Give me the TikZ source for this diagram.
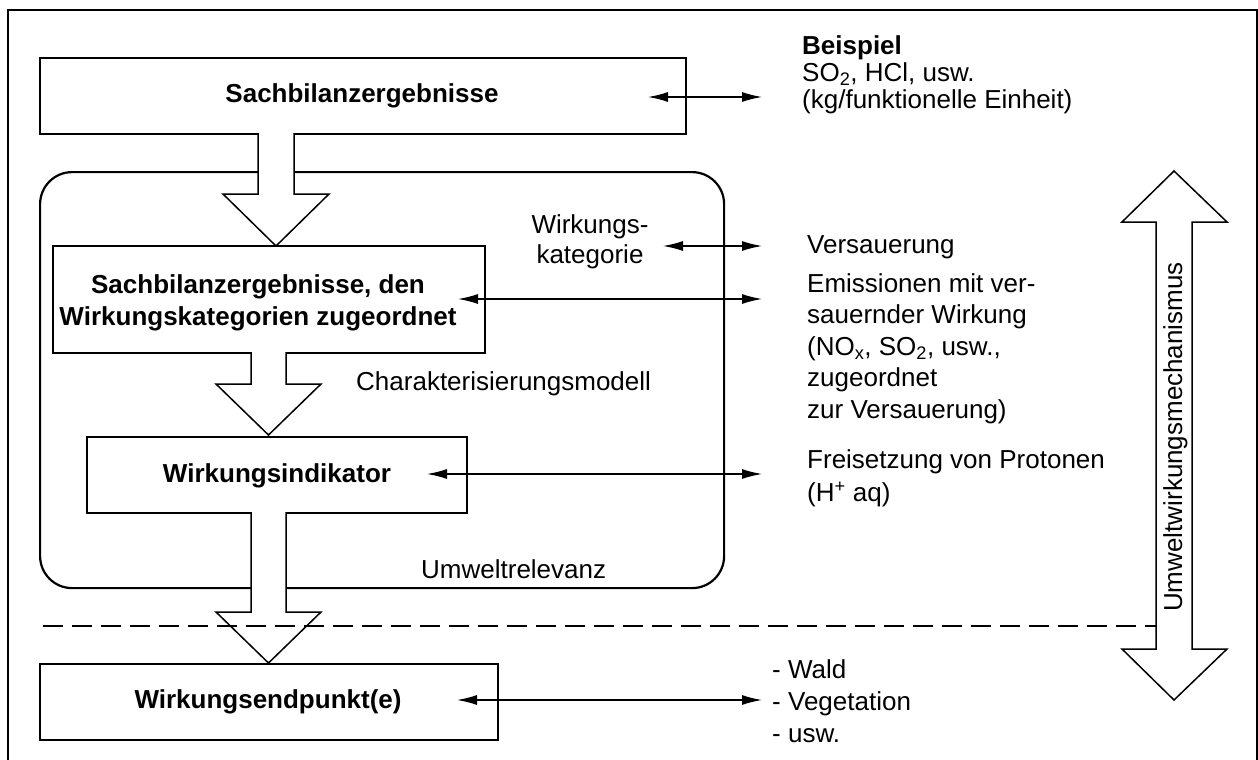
\documentclass[tikz,border=0pt]{standalone}
\usepackage{fontspec}
\setmainfont{Liberation Sans}
\usetikzlibrary{arrows.meta}
\begin{document}
\begin{tikzpicture}[x=1pt,y=-1pt,
  box/.style={draw, line width=2pt, inner sep=0pt, anchor=north west},
  lbl/.style={inner sep=0pt, font=\fontsize{26}{31.5}\selectfont},
  bold/.style={inner sep=0pt, font=\fontsize{26}{32}\selectfont\bfseries},
  dblarrow/.style={line width=1.4pt, {Latex[length=20pt,width=10pt]}-{Latex[length=20pt,width=10pt]}},
  blockarrow/.style={draw, line width=1.5pt, fill=white, line join=miter},
]
\useasboundingbox (0,0) rectangle (1258,760);

% outer frame (open at the bottom)
\draw[line width=2pt] (8,760) -- (8,10) -- (1257,10) -- (1257,760);

% rounded frame around the characterisation steps
\node[draw, line width=2.2pt, rounded corners=32pt, inner sep=0pt, anchor=north west,
      minimum width=684pt, minimum height=416pt] (umw) at (39,171) {};

% boxes
\node[box, minimum width=646pt, minimum height=76pt] (sb) at (39,57) {};
\node[box, minimum width=432pt, minimum height=107pt] (zu) at (52,245) {};
\node[box, minimum width=380pt, minimum height=76pt] (wi) at (86,436) {};
\node[box, minimum width=458pt, minimum height=76pt] (we) at (39,663) {};

% hollow block arrows between the boxes
\draw[blockarrow] (258,133) -- (258,194) -- (223,194) -- (276,246) -- (329,194) -- (294,194) -- (294,133);
\draw[blockarrow] (251,352) -- (251,384) -- (216,384) -- (268.5,435) -- (321,384) -- (286,384) -- (286,352);
\draw[blockarrow] (251,512) -- (251,612) -- (216,612) -- (268.5,663) -- (321,612) -- (286,612) -- (286,512);

% double block arrow on the right
\draw[blockarrow] (1156,222) -- (1122,222) -- (1174,171) -- (1227,222) -- (1192,222)
  -- (1192,649) -- (1227,649) -- (1174,700) -- (1122,649) -- (1156,649) -- cycle;
\node[lbl, rotate=90, anchor=base] (mech) at (1182,437) {Umweltwirkungsmechanismus};

% dashed separation line
\coordinate (d1) at (43,626);
\coordinate (d2) at (1156,626);
\draw[line width=2pt, dash pattern=on 20pt off 9pt] (d1) -- (d2);

% double-headed connectors
\coordinate (a1) at (648,97);   \coordinate (b1) at (762,97);
\coordinate (a2) at (663,246);  \coordinate (b2) at (762,246);
\coordinate (a3) at (458,299);  \coordinate (b3) at (762,299);
\coordinate (a4) at (427,474);  \coordinate (b4) at (762,474);
\coordinate (a5) at (457,700);  \coordinate (b5) at (762,700);
\draw[dblarrow] (a1) -- (b1);
\draw[dblarrow] (a2) -- (b2);
\draw[dblarrow] (a3) -- (b3);
\draw[dblarrow] (a4) -- (b4);
\draw[dblarrow] (a5) -- (b5);

% box texts
\node[bold, anchor=base] (t-sb) at (362,102) {Sachbilanzergebnisse};
\node[bold, anchor=north, align=center] (t-zu) at (258,274.4)
  {Sachbilanzergebnisse, den\\Wirkungskategorien zugeordnet};
\node[bold, anchor=base] (t-wi) at (277,482) {Wirkungsindikator};
\node[bold, anchor=base] (t-we) at (268,708) {Wirkungsendpunkt(e)};

% labels inside the rounded frame
\node[lbl, anchor=north, align=center, font=\fontsize{26}{30}\selectfont] (t-kat) at (590,214.4)
  {Wirkungs-\\kategorie};
\node[lbl, anchor=base west] (t-char) at (356,390) {Charakterisierungsmodell};
\node[lbl, anchor=base west] (t-rel) at (421,578) {Umweltrelevanz};

% example column
\node[lbl, anchor=north west, align=left, font=\fontsize{26}{27}\selectfont] (t-bsp) at (802,35.4)
  {\textbf{Beispiel}\\SO\textsubscript{2}, HCl, usw.\\(kg/funktionelle Einheit)};
\node[lbl, anchor=base west] (t-vers) at (807,253) {Versauerung};
\node[lbl, anchor=north west, align=left] (t-emi) at (807,273.4)
  {Emissionen mit ver-\\sauernder Wirkung\\(NO\textsubscript{x}, SO\textsubscript{2}, usw.,\\zugeordnet\\zur Versauerung)};
\node[lbl, anchor=north west, align=left, font=\fontsize{26}{33}\selectfont] (t-frei) at (807,449.4)
  {Freisetzung von Protonen\\(H\textsuperscript{+} aq)};
\node[lbl, anchor=north west, align=left, font=\fontsize{26}{32}\selectfont] (t-wald) at (772,659.4)
  {- Wald\\- Vegetation\\- usw.};
\end{tikzpicture}
\end{document}
